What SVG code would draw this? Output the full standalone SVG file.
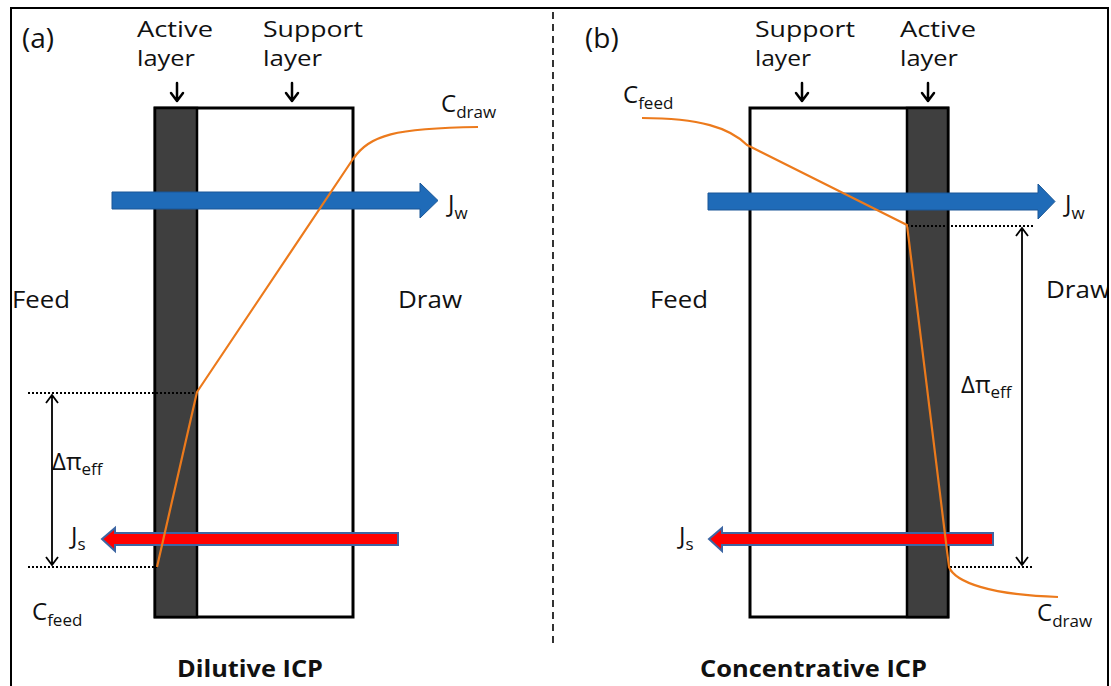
<svg xmlns="http://www.w3.org/2000/svg" width="1111" height="686" viewBox="0 0 1111 686">
<defs>
<style>
text{font-family:"Open Sans","Liberation Sans",sans-serif;fill:#111}
.lbl{font-size:21px}
.side{font-size:24px}
.semi{font-weight:500}
.big{font-size:28px}
.ttl{font-size:23px;font-weight:bold}
.sym{font-size:24px}
.sub{font-size:17px}
.mem{fill:none;stroke:#000;stroke-width:3}
.dark{fill:#3f3f3f;stroke:#000;stroke-width:2.5}
.ptr{fill:none;stroke:#000;stroke-width:2.5;stroke-linecap:round;stroke-linejoin:round}
.dim{fill:none;stroke:#000;stroke-width:1.8}
.dot{fill:none;stroke:#000;stroke-width:1.8;stroke-dasharray:2 2}
.conc{fill:none;stroke:#ec7a1c;stroke-width:2.2;stroke-linejoin:round}
.jw{fill:#1f6bb8;stroke:#1a5797;stroke-width:1}
.js{fill:#ff0000;stroke:#3d66a3;stroke-width:2}
</style>
<clipPath id="clipb"><rect x="555" y="0" width="552" height="686"/></clipPath>
</defs>
<rect width="1111" height="686" fill="#fff"/>
<rect x="11" y="8" width="1097" height="700" fill="none" stroke="#000" stroke-width="2"/>
<line x1="553" y1="12" x2="553" y2="645" stroke="#000" stroke-width="1.6" stroke-dasharray="7 5"/>

<!-- Panel (a) -->
<g id="panel-a-membrane">
<rect x="155" y="108" width="198" height="509" class="mem"/>
<rect x="155" y="108" width="42" height="509" class="dark"/>
</g>
<g id="panel-a-labels">
<text x="22" y="48" class="big">(a)</text>
<text x="137" y="37" class="lbl" textLength="76" lengthAdjust="spacingAndGlyphs">Active</text>
<text x="137" y="66" class="lbl" textLength="58" lengthAdjust="spacingAndGlyphs">layer</text>
<text x="263" y="37" class="lbl" textLength="100" lengthAdjust="spacingAndGlyphs">Support</text>
<text x="263" y="66" class="lbl" textLength="59" lengthAdjust="spacingAndGlyphs">layer</text>
<text x="12" y="308" class="side semi" textLength="58" lengthAdjust="spacingAndGlyphs">Feed</text>
<text x="398" y="308" class="side semi" textLength="64" lengthAdjust="spacingAndGlyphs">Draw</text>
<text x="441" y="112" class="sym">C<tspan class="sub" dy="6">draw</tspan></text>
<text x="448" y="212" class="sym">J<tspan class="sub" dy="7">w</tspan></text>
<text x="52" y="470" class="sym">Δπ<tspan class="sub" dy="5">eff</tspan></text>
<text x="71" y="544" class="sym">J<tspan class="sub" dy="6">s</tspan></text>
<text x="32" y="620" class="sym">C<tspan class="sub" dy="6">feed</tspan></text>
<text x="177" y="677" class="ttl" textLength="146" lengthAdjust="spacingAndGlyphs">Dilutive ICP</text>
</g>

<!-- Panel (b) -->
<g id="panel-b-membrane">
<rect x="750" y="108" width="198" height="509" class="mem"/>
<rect x="907" y="108" width="41" height="509" class="dark"/>
</g>
<g id="panel-b-labels" clip-path="url(#clipb)">
<text x="585" y="48" class="big">(b)</text>
<text x="755" y="37" class="lbl" textLength="100" lengthAdjust="spacingAndGlyphs">Support</text>
<text x="755" y="66" class="lbl" textLength="56" lengthAdjust="spacingAndGlyphs">layer</text>
<text x="900" y="37" class="lbl" textLength="76" lengthAdjust="spacingAndGlyphs">Active</text>
<text x="900" y="66" class="lbl" textLength="58" lengthAdjust="spacingAndGlyphs">layer</text>
<text x="650" y="308" class="side" textLength="58" lengthAdjust="spacingAndGlyphs">Feed</text>
<text x="1046" y="298" class="side" textLength="64" lengthAdjust="spacingAndGlyphs">Draw</text>
<text x="623" y="103" class="sym">C<tspan class="sub" dy="6">feed</tspan></text>
<text x="1065" y="212" class="sym">J<tspan class="sub" dy="7">w</tspan></text>
<text x="961" y="393" class="sym">Δπ<tspan class="sub" dy="5">eff</tspan></text>
<text x="679" y="544" class="sym">J<tspan class="sub" dy="6">s</tspan></text>
<text x="1037" y="621" class="sym">C<tspan class="sub" dy="6">draw</tspan></text>
<text x="700" y="677" class="ttl" textLength="227" lengthAdjust="spacingAndGlyphs">Concentrative ICP</text>
</g>

<g id="connectors">
<!-- layer pointers -->
<path class="ptr" d="M177 83 V101 M171 93 L177 101 L183 93"/>
<path class="ptr" d="M292 83 V101 M286 93 L292 101 L298 93"/>
<path class="ptr" d="M802 83 V101 M796 93 L802 101 L808 93"/>
<path class="ptr" d="M928 83 V101 M922 93 L928 101 L934 93"/>
<!-- dotted reference lines -->
<line class="dot" x1="28" y1="393" x2="197" y2="393"/>
<line class="dot" x1="28" y1="567" x2="157" y2="567"/>
<line class="dot" x1="907" y1="226" x2="1034" y2="226"/>
<line class="dot" x1="950" y1="567" x2="1034" y2="567"/>
<!-- delta pi arrows -->
<path class="dim" d="M52 395 V565 M46 403 L52 395 L58 403 M46 557 L52 565 L58 557"/>
<path class="dim" d="M1022 228 V565 M1016 236 L1022 228 L1028 236 M1016 557 L1022 565 L1028 557"/>
<!-- water flux arrows -->
<polygon class="jw" points="112,192 420,192 420,183 438,200.5 420,218 420,209 112,209"/>
<polygon class="jw" points="708,193 1038,193 1038,184 1055,201.5 1038,219 1038,210 708,210"/>
<!-- solute flux arrows -->
<polygon class="js" points="398,533 115,533 115,528 102,539 115,551 115,545 398,545"/>
<polygon class="js" points="993,533 722,533 722,528 709,539 722,551 722,545 993,545"/>
<!-- concentration profiles -->
<path class="conc" d="M157 567 L197 392 L353 159 C370 135 395 128 478 127"/>
<path class="conc" d="M642 118 C700 118 730 128 747 145 L907 225 L949 567 C955 582 990 595 1058 597"/>
</g>
</svg>
